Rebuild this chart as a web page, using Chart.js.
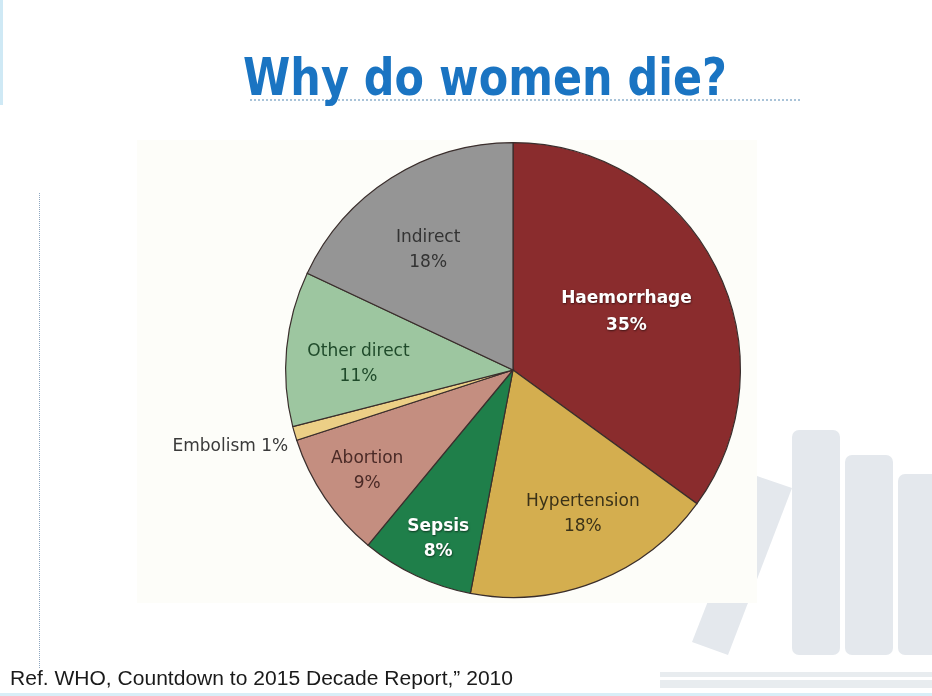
<!DOCTYPE html>
<html><head><meta charset="utf-8">
<script src="https://cdn.jsdelivr.net/npm/chart.js@4.4.1/dist/chart.umd.min.js"></script>
<style>
html,body{margin:0;padding:0;background:#fff;}
#page{position:relative;width:932px;height:696px;overflow:hidden;background:#fff;}
.abs{position:absolute;}
#title{left:243px;top:51px;font-family:"DejaVu Sans",sans-serif;font-weight:bold;font-size:52px;line-height:52px;color:#1a74c2;white-space:nowrap;transform-origin:0 0;}
#foot{left:10px;top:668px;font-family:"Liberation Sans",Arial,sans-serif;font-size:20px;line-height:20px;color:#1a1a1a;white-space:nowrap;transform-origin:0 0;}
.bar{background:#e4e8ed;border-radius:7px;}
</style></head><body>
<div id="page">
  <div class="abs" style="left:0;top:0;width:3px;height:105px;background:#cfe9f5"></div>
  <div class="abs" style="left:0;top:693px;width:932px;height:3px;background:#d8eef7"></div>
  <div class="abs bar" style="left:792px;top:430px;width:48px;height:225px"></div>
  <div class="abs bar" style="left:845px;top:455px;width:48px;height:200px"></div>
  <div class="abs bar" style="left:898px;top:474px;width:48px;height:181px"></div>
  <div class="abs" style="left:0;top:0;width:932px;height:696px;background:#e4e8ed;clip-path:polygon(757px 476px,792px 488px,728px 655px,692px 642px)"></div>
  <div class="abs" style="left:660px;top:672px;width:272px;height:5px;background:#e8ecef"></div>
  <div class="abs" style="left:660px;top:680px;width:272px;height:8px;background:#e8ecef"></div>
  <div class="abs" style="left:137px;top:140px;width:620px;height:463px;background:#fdfdf9"></div>
  <div class="abs" style="left:39px;top:193px;width:0;height:475px;border-left:1px dotted #8ea6bf"></div>
  <div class="abs" style="left:250px;top:99px;width:550px;height:0;border-top:2px dotted #a9c3d8"></div>
  <canvas id="c" width="932" height="696" class="abs" style="left:0;top:0"></canvas>
  <div id="title" class="abs">Why do women die?</div>
  <div id="foot" class="abs">Ref. WHO, Countdown to 2015 Decade Report,” 2010</div>
</div>
<script>
// ---- data ----
const causes = ["Haemorrhage", "Hypertension", "Sepsis", "Abortion", "Embolism", "Other direct", "Indirect"];
const shares = [35, 18, 8, 9, 1, 11, 18];
const sliceColors = ["#8a2c2d", "#d4ae4f", "#1f7f4a", "#c48e80", "#eccf86", "#9dc6a0", "#959595"];

// ---- label styling ----
const labelRadius = [0.56, 0.706, 0.815, 0.78, 1.044, 0.68, 0.647];
const labelAngleShift = [0, -4.2, -1.4, -0.5, -2.6, -3.2, -2.8];
const labelColor = ["#ffffff", "#3b3218", "#ffffff", "#4a2a26", "#3a3a3a", "#1f4a2a", "#333333"];
const labelBold = [true, false, true, false, false, false, false];
const labelInline = [false, false, false, false, true, false, false];

function fit(el, w){
  const nat = el.getBoundingClientRect().width;
  el.style.transform = 'scaleX(' + (w / nat) + ')';
}
fit(document.getElementById('title'), 484);
fit(document.getElementById('foot'), 503);

const labelPlugin = {
  id: 'sliceLabels',
  afterDatasetsDraw(chart){
    const ctx = chart.ctx;
    const meta = chart.getDatasetMeta(0);
    meta.data.forEach((arc, i) => {
      const p = arc.getProps(['x','y','startAngle','endAngle','outerRadius'], true);
      const mid = (p.startAngle + p.endAngle) / 2 + labelAngleShift[i] * Math.PI / 180;
      const r = p.outerRadius * labelRadius[i];
      const px = p.x + Math.cos(mid) * r;
      const py = p.y + Math.sin(mid) * r;
      ctx.save();
      ctx.font = (labelBold[i] ? 'bold ' : '') + '17px "DejaVu Sans", sans-serif';
      ctx.fillStyle = labelColor[i];
      ctx.textBaseline = 'middle';
      if (labelBold[i]) { ctx.shadowColor = 'rgba(0,0,0,0.55)'; ctx.shadowBlur = 2; ctx.shadowOffsetX = 0.5; ctx.shadowOffsetY = 0.5; }
      const pct = shares[i] + '%';
      if (labelInline[i]) {
        ctx.textAlign = 'right';
        ctx.fillText(causes[i] + ' ' + pct, px, py);
      } else {
        const gap = i === 0 ? 27 : 25;
        ctx.textAlign = 'center';
        ctx.fillText(causes[i], px, py - gap / 2);
        ctx.fillText(pct, px, py + gap / 2);
      }
      ctx.restore();
    });
  }
};

new Chart(document.getElementById('c'), {
  type: 'pie',
  data: {
    labels: causes,
    datasets: [{
      data: shares,
      backgroundColor: sliceColors,
      borderColor: '#3a2e2c',
      borderWidth: 1.2,
      borderJoinStyle: 'miter'
    }]
  },
  options: {
    responsive: false,
    animation: false,
    layout: { padding: { left: 285, right: 191, top: 142, bottom: 98 } },
    plugins: { legend: { display: false }, tooltip: { enabled: false }, title: { display: false } }
  },
  plugins: [labelPlugin]
});
</script>
</body></html>
